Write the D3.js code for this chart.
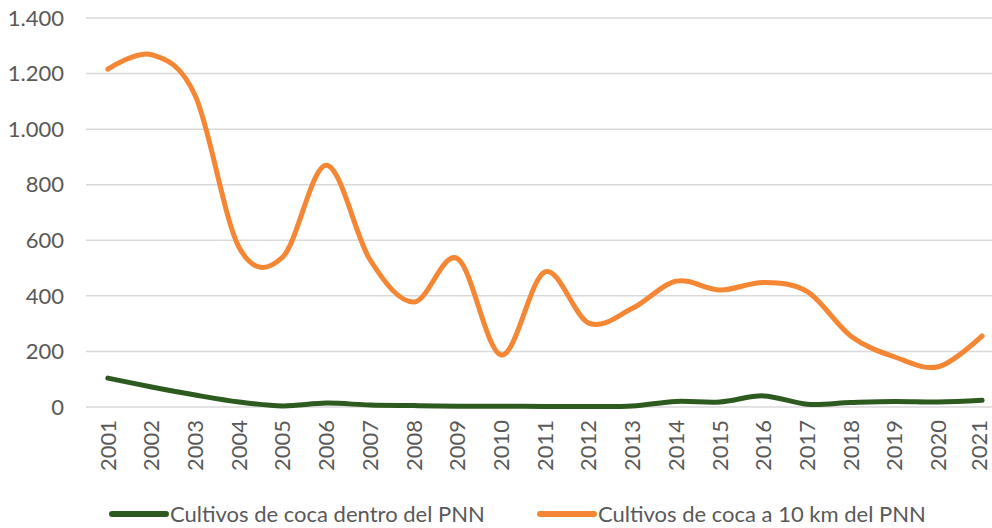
<!DOCTYPE html>
<html>
<head>
<meta charset="utf-8">
<script src="https://cdn.jsdelivr.net/npm/d3@7"></script>
<style>
  body { margin: 0; background: #fff; }
  svg { font-family: Lato, "Open Sans", sans-serif; }
</style>
</head>
<body>
<svg id="chart" width="992" height="528"></svg>
<script>
// data
const years = ["2001","2002","2003","2004","2005","2006","2007","2008","2009","2010","2011",
               "2012","2013","2014","2015","2016","2017","2018","2019","2020","2021"];
const dentro = [104, 72, 43, 18, 4, 14, 7, 5, 3, 3, 2, 2, 4, 20, 18, 40, 10, 16, 20, 18, 24];
const aDiezKm = [1216, 1268, 1120, 575, 540, 870, 529, 378, 534, 187, 486, 302, 355, 453, 421, 448, 415, 255, 180, 145, 256];
const yTicks = [0, 200, 400, 600, 800, 1000, 1200, 1400];
const seriesNames = ["Cultivos de coca dentro del PNN", "Cultivos de coca a 10 km del PNN"];
const colors = ["#2d5a1e", "#f58634"];

let svg = d3.select("#chart");

let xScale = d3.scaleBand().domain(years).range([86, 1004]);
let yScale = d3.scaleLinear().domain([0, 1400]).range([407, 18]);
let fmt = d3.formatLocale({ decimal: ",", thousands: ".", grouping: [3], currency: ["", ""] }).format(",");

// gridlines
svg.append("g")
  .selectAll("line")
  .data(yTicks)
  .join("line")
  .attr("x1", 86).attr("x2", 992)
  .attr("y1", d => yScale(d)).attr("y2", d => yScale(d))
  .attr("stroke", "#d9d9d9")
  .attr("stroke-width", 1.5);

// y labels
svg.append("g")
  .selectAll("text")
  .data(yTicks)
  .join("text")
  .attr("x", 64)
  .attr("y", d => yScale(d))
  .attr("dy", "0.35em")
  .attr("text-anchor", "end")
  .attr("fill", "#595959")
  .attr("font-size", 22)
  .text(d => fmt(d));

// x labels, rotated
svg.append("g")
  .selectAll("text")
  .data(years)
  .join("text")
  .attr("transform", d => `translate(${Math.min(xScale(d) + xScale.bandwidth() / 2, 979)},420) rotate(-90)`)
  .attr("dy", "0.35em")
  .attr("text-anchor", "end")
  .attr("fill", "#595959")
  .attr("font-size", 22)
  .text(d => d);

// smooth lines like the spreadsheet
let lineGen = d3.line()
  .x((d, i) => xScale(years[i]) + xScale.bandwidth() / 2)
  .y(d => yScale(d))
  .curve(d3.curveCatmullRom.alpha(0));

[dentro, aDiezKm].forEach((vals, i) => {
  svg.append("path")
    .datum(vals)
    .attr("fill", "none")
    .attr("stroke", colors[i])
    .attr("stroke-width", 5)
    .attr("stroke-linecap", "round")
    .attr("d", lineGen);
});

// legend
let legendX = [112, 540];
seriesNames.forEach((name, i) => {
  let g = svg.append("g").attr("transform", `translate(${legendX[i]},514)`);
  g.append("line")
    .attr("x1", 0).attr("x2", 54)
    .attr("stroke", colors[i])
    .attr("stroke-width", 6)
    .attr("stroke-linecap", "round");
  g.append("text")
    .attr("x", 58)
    .attr("dy", "0.35em")
    .attr("fill", "#595959")
    .attr("font-size", 22)
    .text(name);
});
</script>
</body>
</html>
